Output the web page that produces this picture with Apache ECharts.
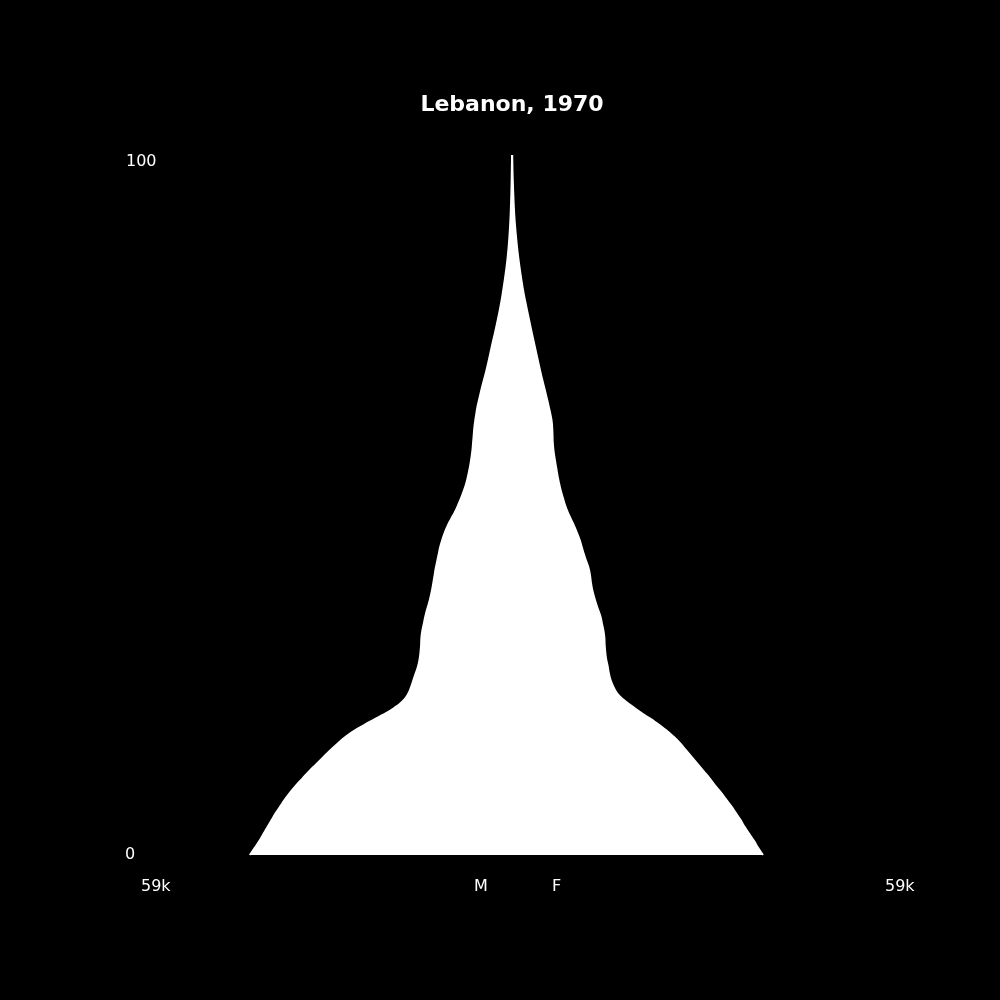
<!DOCTYPE html>
<html>
<head>
<meta charset="utf-8">
<title>Lebanon, 1970</title>
<script src="https://cdn.jsdelivr.net/npm/echarts@6/dist/echarts.min.js"></script>
<style>
  html, body { margin: 0; padding: 0; background: #000; }
  #chart { width: 1000px; height: 1000px; }
</style>
</head>
<body>
<div id="chart"></div>
<script>
// ages 0..100 (single years)
const ages = Array.from({ length: 101 }, (_, i) => String(i));

// population in thousands
const male = [
  44.6, 43.8, 43.0, 42.3, 41.6, 40.9, 40.2, 39.4, 38.6, 37.7,
  36.7, 35.6, 34.5, 33.3, 32.1, 30.9, 29.6, 28.2, 26.4, 24.3,
  22.1, 20.1, 18.6, 17.7, 17.2, 16.8, 16.4, 16.0, 15.75, 15.6,
  15.5, 15.45, 15.3, 15.05, 14.8, 14.5, 14.15, 13.85, 13.6, 13.4,
  13.2, 13.0, 12.75, 12.5, 12.25, 11.9, 11.5, 11.0, 10.4, 9.75,
  9.2, 8.7, 8.25, 7.85, 7.55, 7.3, 7.08, 6.9, 6.75, 6.65,
  6.55, 6.45, 6.3, 6.12, 5.92, 5.65, 5.37, 5.08, 4.77, 4.45,
  4.17, 3.9, 3.64, 3.38, 3.1, 2.83, 2.57, 2.32, 2.08, 1.86,
  1.66, 1.48, 1.3, 1.13, 0.97, 0.83, 0.71, 0.6, 0.51, 0.43,
  0.36, 0.3, 0.25, 0.21, 0.17, 0.14, 0.11, 0.09, 0.07, 0.05,
  0.04
];
const female = [
  42.7, 41.9, 41.2, 40.4, 39.6, 38.9, 38.1, 37.3, 36.4, 35.5,
  34.5, 33.6, 32.6, 31.6, 30.6, 29.6, 28.6, 27.4, 26.0, 24.4,
  22.6, 20.9, 19.3, 18.0, 17.3, 16.8, 16.5, 16.3, 16.05, 15.9,
  15.8, 15.75, 15.6, 15.35, 15.1, 14.7, 14.3, 13.95, 13.65, 13.45,
  13.3, 13.05, 12.65, 12.25, 11.9, 11.55, 11.1, 10.6, 10.05, 9.5,
  9.05, 8.7, 8.35, 8.07, 7.82, 7.62, 7.42, 7.23, 7.07, 6.97,
  6.93, 6.88, 6.78, 6.56, 6.3, 6.03, 5.74, 5.45, 5.15, 4.87,
  4.6, 4.34, 4.08, 3.82, 3.56, 3.3, 3.05, 2.8, 2.55, 2.31,
  2.07, 1.86, 1.67, 1.49, 1.32, 1.16, 1.01, 0.88, 0.76, 0.65,
  0.55, 0.46, 0.39, 0.33, 0.28, 0.23, 0.19, 0.15, 0.12, 0.1,
  0.08
];

const axisMax = 59; // thousands

const chart = echarts.init(document.getElementById('chart'), null, { renderer: 'canvas' });
const font = '"DejaVu Sans", sans-serif';
const labelStyle = { fill: '#fff', fontFamily: font, fontSize: 16 };

chart.setOption({
  backgroundColor: '#000',
  animation: false,
  grid: { left: 165, right: 141, top: 155, bottom: 145 },
  xAxis: {
    type: 'value',
    min: -axisMax,
    max: axisMax,
    show: false
  },
  yAxis: {
    type: 'category',
    data: ages,
    boundaryGap: false,
    show: false
  },
  series: [
    {
      name: 'M',
      type: 'line',
      data: male.map(v => -v),
      smooth: 0.5,
      symbol: 'none',
      lineStyle: { color: '#fff', width: 1.5 },
      areaStyle: { color: '#fff', opacity: 1 }
    },
    {
      name: 'F',
      type: 'line',
      data: female,
      smooth: 0.5,
      symbol: 'none',
      lineStyle: { color: '#fff', width: 1.5 },
      areaStyle: { color: '#fff', opacity: 1 }
    }
  ],
  graphic: [
    {
      type: 'text', x: 512, y: 105,
      style: { text: 'Lebanon, 1970', fill: '#fff', fontFamily: font, fontSize: 22, fontWeight: 'bold', align: 'center', verticalAlign: 'middle' }
    },
    { type: 'text', left: 126, top: 154, style: { ...labelStyle, text: '100' } },
    { type: 'text', left: 125, top: 847, style: { ...labelStyle, text: '0' } },
    { type: 'text', left: 141, top: 879, style: { ...labelStyle, text: '59k' } },
    { type: 'text', left: 885, top: 879, style: { ...labelStyle, text: '59k' } },
    { type: 'text', left: 474, top: 879, style: { ...labelStyle, text: 'M' } },
    { type: 'text', left: 552, top: 879, style: { ...labelStyle, text: 'F' } }
  ]
});
</script>
</body>
</html>
